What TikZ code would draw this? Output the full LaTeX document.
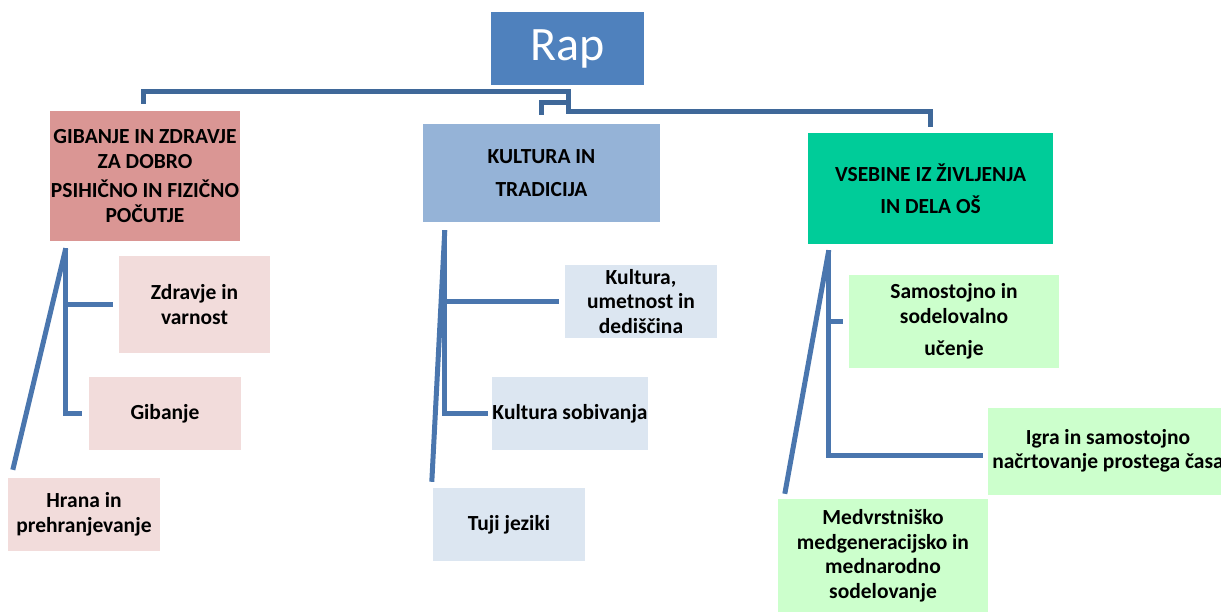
\documentclass[tikz,border=0pt]{standalone}
\usepackage{fontspec}
\setmainfont{Carlito}
\usetikzlibrary{calc}
\definecolor{rapblue}{HTML}{4F81BD}
\definecolor{rosec}{HTML}{DA9694}
\definecolor{bluec}{HTML}{95B3D7}
\definecolor{greenc}{HTML}{00CC99}
\definecolor{rosel}{HTML}{F2DCDB}
\definecolor{bluel}{HTML}{DCE6F1}
\definecolor{greenl}{HTML}{CCFFCC}
\definecolor{topline}{HTML}{3F6899}
\definecolor{lowline}{HTML}{4A76AE}
\tikzset{
  box/.style={inner sep=0pt, align=center, font=\fontsize{21.5}{24.5}\selectfont\bfseries},
  topconn/.style={draw=topline, line width=5pt},
  conn/.style={draw=lowline, line width=5pt},
}
\begin{document}
\begin{tikzpicture}[x=1pt,y=-1pt]
\useasboundingbox (0,0) rectangle (1221,612);
% main
\node[box, fill=rapblue, minimum width=153pt, minimum height=73pt, text=white, font=\fontsize{48}{52}\selectfont] (rap) at (567.5,48.5) {Rap};
% categories
\node[box, fill=rosec, minimum width=190pt, minimum height=130pt] (c1) at (145,176)
  {GIBANJE IN ZDRAVJE\\ZA DOBRO\\[5pt]PSIHIČNO IN FIZIČNO\\POČUTJE};
\node[box, fill=bluec, minimum width=237pt, minimum height=98pt] (c2) at (541.5,173)
  {KULTURA IN\\[8pt]TRADICIJA};
\node[box, fill=greenc, minimum width=245pt, minimum height=111pt] (c3) at (930.5,188.5)
  {VSEBINE IZ ŽIVLJENJA\\[8pt]IN DELA OŠ};
% children left
\node[box, fill=rosel, minimum width=151pt, minimum height=97pt] (z) at (194.5,304.5) {Zdravje in\\varnost};
\node[box, fill=rosel, minimum width=152pt, minimum height=73pt] (g) at (165,413.5) {Gibanje};
\node[box, fill=rosel, minimum width=152pt, minimum height=73pt] (h) at (84,514.5) {Hrana in\\prehranjevanje};
% children middle
\node[box, fill=bluel, minimum width=152pt, minimum height=73pt] (k1) at (641,301.5) {Kultura,\\umetnost in\\dediščina};
\node[box, fill=bluel, minimum width=152pt, minimum height=73pt] (k2) at (570,413.5) {Kultura sobivanja};
\node[box, fill=bluel, minimum width=152pt, minimum height=73pt] (k3) at (509,524.5) {Tuji jeziki};
% children right
\node[box, fill=greenl, minimum width=210pt, minimum height=93pt] (s1) at (954,321.5) {Samostojno in\\sodelovalno\\[8pt]učenje};
\node[box, fill=greenl, minimum width=240pt, minimum height=87pt] (s2) at (1108,451) {Igra in samostojno\\načrtovanje prostega časa};
\node[box, fill=greenl, minimum width=210pt, minimum height=114pt] (s3) at (883,556) {Medvrstniško\\medgeneracijsko in\\mednarodno\\sodelovanje};
% top connectors
\coordinate (j0) at (568,92);
\coordinate (j2) at (568,103);
\draw[topconn] ([xshift=-2pt,yshift=7pt]c1.north) |- (j0) |- ([yshift=21pt]c3.north) -- ([yshift=6pt]c3.north);
\draw[topconn] ([yshift=9pt]c2.north) |- (j2);
% left group
\coordinate (l0) at ([xshift=16pt,yshift=-7pt]c1.south west);
\draw[conn] (l0) |- ([xshift=-7pt]g.west);
\draw[conn] (l0 |- z.west) -- ([xshift=-6pt]z.west);
\draw[conn] (l0) -- ([xshift=5pt,yshift=8pt]h.north west);
% middle group
\coordinate (m0) at ([xshift=22pt,yshift=-8pt]c2.south west);
\draw[conn] (m0) |- ([xshift=-4pt]k2.west);
\draw[conn] (m0 |- k1.west) -- ([xshift=-6pt]k1.west);
\draw[conn] (m0) -- ([xshift=-1pt,yshift=6pt]k3.north west);
% right group
\coordinate (r0) at ([xshift=21pt,yshift=-6pt]c3.south west);
\draw[conn] (r0) |- ([xshift=-5pt,yshift=-4pt]s2.west);
\draw[conn] (r0 |- s1.west) -- ([xshift=-6pt]s1.west);
\draw[conn] (r0) -- ([xshift=7pt,yshift=5pt]s3.north west);
\end{tikzpicture}
\end{document}
